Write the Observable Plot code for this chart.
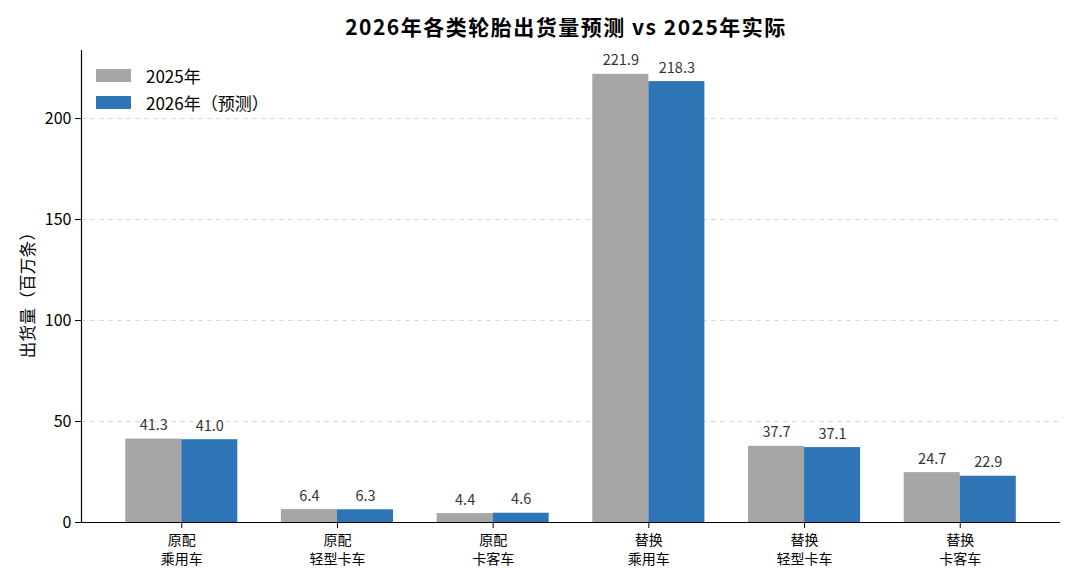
<!DOCTYPE html>
<html>
<head>
<meta charset="utf-8">
<script src="https://cdn.jsdelivr.net/npm/d3@7"></script>
<script src="https://cdn.jsdelivr.net/npm/@observablehq/plot@0.6"></script>
<style>
  body { margin: 0; background: #fff; font-family: "Noto Sans CJK SC", "Noto Sans", sans-serif; }
  #wrap { position: relative; width: 1080px; height: 583px; }
  #title { height: 48px; box-sizing: border-box; padding-top: 15px; padding-left: 52px; text-align: center;
           font-size: 21px; line-height: 23px; font-weight: bold; color: #000; letter-spacing: 1.5px; }
  #ylabel { position: absolute; left: 27px; top: 291px; transform: translate(-50%, -50%) rotate(-90deg);
            font-size: 16.5px; white-space: nowrap; color: #000; letter-spacing: 0.3px; }
  #legend { position: absolute; left: 96px; top: 62px; font-size: 17px; color: #000; }
  .item { display: flex; align-items: center; height: 27px; }
  .sw { width: 35px; height: 13px; margin-right: 15px; }
</style>
</head>
<body>
<div id="wrap">
  <div id="title">2026年各类轮胎出货量预测 vs 2025年实际</div>
  <div id="chart"></div>
  <div id="ylabel">出货量（百万条）</div>
  <div id="legend"></div>
</div>
<script>
const categories = ["原配\n乘用车", "原配\n轻型卡车", "原配\n卡客车", "替换\n乘用车", "替换\n轻型卡车", "替换\n卡客车"];
const values2025 = [41.3, 6.4, 4.4, 221.9, 37.7, 24.7];
const values2026 = [41.0, 6.3, 4.6, 218.3, 37.1, 22.9];
const seriesNames = ["2025年", "2026年（预测）"];
const seriesColors = ["#a6a6a6", "#2e75b6"];
const yTicks = [0, 50, 100, 150, 200];

const data2025 = categories.map((c, i) => ({cat: c, v: values2025[i]}));
const data2026 = categories.map((c, i) => ({cat: c, v: values2026[i]}));

const W = 1080, H = 535, ML = 81, MR = 20, MT = 2, MB = 61;
const PI = 0.28, PO = 0.284;
const step = (W - ML - MR) / (categories.length - PI + 2 * PO);
const bw = step * (1 - PI);
const half = bw / 2;

const chart = Plot.plot({
  width: W, height: H,
  marginLeft: ML, marginRight: MR, marginTop: MT, marginBottom: MB,
  style: {fontFamily: '"Noto Sans CJK SC", "Noto Sans", sans-serif', background: "#fff", color: "#000"},
  x: {domain: categories, paddingInner: PI, paddingOuter: PO, round: false, label: null},
  y: {domain: [0, 233.7], label: null},
  marks: [
    Plot.ruleY(yTicks.slice(1), {stroke: "#d9d9d9", strokeDasharray: "5,4", strokeWidth: 1}),
    Plot.barY(data2025, {x: "cat", y: "v", fill: seriesColors[0], insetRight: half}),
    Plot.barY(data2026, {x: "cat", y: "v", fill: seriesColors[1], insetLeft: half}),
    Plot.text(data2025, {x: "cat", y: "v", text: d => d.v.toFixed(1), dx: -bw / 4, dy: -9, lineAnchor: "bottom", fontSize: 14.5, fill: "#333"}),
    Plot.text(data2026, {x: "cat", y: "v", text: d => d.v.toFixed(1), dx: bw / 4, dy: -9, lineAnchor: "bottom", fontSize: 14.5, fill: "#333"}),
    Plot.axisY({ticks: yTicks, tickSize: 6, tickPadding: 4, fontSize: 16, label: null}),
    Plot.axisX({tickSize: 6, tickPadding: 7, fontSize: 14, tickFormat: d => d.split("\n")[0], label: null}),
    Plot.axisX({tickSize: 0, tickPadding: 13, dy: 19, fontSize: 14, tickFormat: d => d.split("\n")[1], label: null}),
    Plot.ruleY([0], {stroke: "#000", strokeWidth: 1.2}),
    Plot.frame({anchor: "left", stroke: "#000", strokeWidth: 1.2})
  ]
});
document.getElementById("chart").appendChild(chart);

const legend = document.getElementById("legend");
seriesNames.forEach((n, i) => {
  const it = document.createElement("div");
  it.className = "item";
  it.innerHTML = `<div class="sw" style="background:${seriesColors[i]}"></div><span>${n}</span>`;
  legend.appendChild(it);
});
</script>
</body>
</html>
